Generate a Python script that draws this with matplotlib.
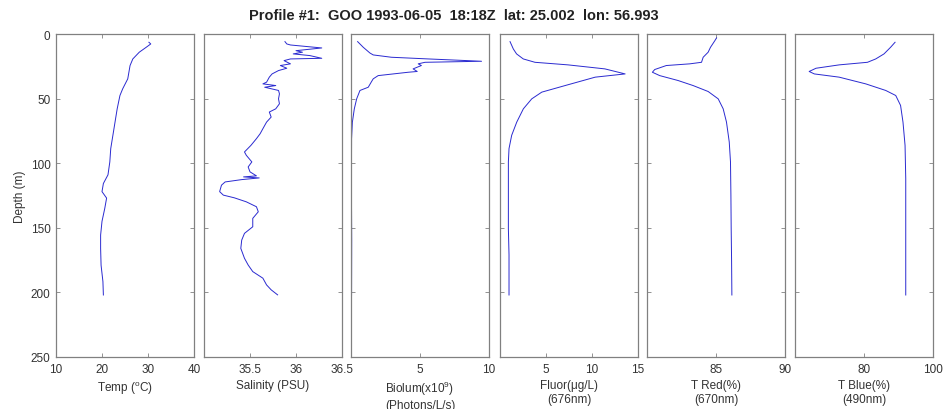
import matplotlib
matplotlib.use("Agg")
import matplotlib.pyplot as plt

plt.rcParams['font.family'] = ['Liberation Sans', 'DejaVu Sans']
plt.rcParams['mathtext.fontset'] = 'custom'
plt.rcParams['mathtext.rm'] = 'Liberation Sans'

# --- profile data (depth in m) ---
temp_depth = [6.4, 7.7, 10.3, 14.1, 19.3, 24.4, 34.7, 42.4, 47.6, 57.9, 73.3, 88.7,
              99, 109, 115.7, 122, 127, 135, 145, 155.6, 166, 179, 191.6, 202]
temp = [30.2, 30.6, 29.6, 28.1, 26.7, 26.1, 25.6, 24.5, 23.9, 23.3, 22.6, 21.9,
        21.7, 21.3, 20.3, 20.0, 21.0, 20.6, 20.0, 19.7, 19.7, 19.8, 20.2, 20.3]

sal_depth = [5.9, 7.7, 8.5, 10.8, 12.9, 14.1, 15.4, 16.7, 18.8, 19.3, 20.6, 23.1,
             24.4, 26.5, 28.3, 30.9, 33.4, 37.3, 38.6, 39.9, 41.2, 43.7, 46.3, 50.2,
             54, 57.9, 60.4, 64.3, 68.2, 73.3, 77.2, 81, 86.2, 91.3, 93.9, 99,
             102.9, 106.7, 109.8, 110.6, 111.4, 112.7, 114.5, 117, 122, 124.7, 126.8, 129.9,
             133.7, 137.6, 142.7, 149.2, 154.3, 159.5, 165.9, 173.6, 178.8, 183.9, 189,
             194.2, 198, 201.9]
sal = [35.88, 35.90, 35.94, 36.28, 36.00, 36.07, 35.97, 36.15, 36.28, 35.94, 35.87, 35.94,
       35.83, 35.90, 35.81, 35.74, 35.71, 35.68, 35.64, 35.78, 35.66, 35.81, 35.82, 35.81,
       35.82, 35.78, 35.71, 35.73, 35.68, 35.64, 35.61, 35.57, 35.51, 35.44, 35.46, 35.52,
       35.48, 35.50, 35.57, 35.43, 35.60, 35.41, 35.23, 35.19, 35.17, 35.21, 35.33, 35.46,
       35.57, 35.59, 35.53, 35.53, 35.44, 35.41, 35.40, 35.44, 35.48, 35.53, 35.64,
       35.68, 35.73, 35.80]

bio_depth = [5.9, 10.3, 14.7, 16.2, 18.0, 19.3, 20.4, 21.1, 21.9, 23.1, 24.4, 27.0,
             29.0, 29.6, 32.2, 34.7, 36.8, 41.2, 43.7, 50.2, 57.9, 68.2, 81, 120, 160, 202]
bio = [0.48, 0.89, 1.37, 1.61, 2.93, 5.6, 8.0, 9.46, 5.36, 4.87, 5.1, 4.5,
       4.8, 4.15, 1.97, 1.61, 1.49, 1.25, 0.65, 0.41, 0.24, 0.1, 0.04, 0.03, 0.05, 0.04]

fl_depth = [5.9, 11.6, 15.4, 19.3, 21.9, 23.9, 27.0, 30.9, 33.4, 39.9, 45.0, 50.2,
            57.9, 68.2, 78.4, 88.7, 99, 124.7, 150.5, 171, 202]
fluor = [1.09, 1.45, 1.8, 2.53, 3.8, 7.4, 11.4, 13.6, 10.35, 7.08, 4.54, 3.45,
         2.54, 1.82, 1.27, 0.98, 0.91, 0.91, 0.91, 0.98, 0.98]

tr_depth = [3, 5.1, 10.3, 14.1, 18.0, 21.9, 23.1, 24.4, 27.5, 29.6, 32.2, 36.0,
            39.9, 44.5, 50.2, 57.9, 68.2, 83.6, 99, 124.7, 150.5, 176.2, 202]
tred = [85.04, 84.92, 84.6, 84.43, 84.07, 83.95, 83.1, 81.4, 80.56, 80.39, 80.92, 82.25,
        83.34, 84.43, 85.16, 85.52, 85.76, 85.96, 86.05, 86.08, 86.1, 86.13, 86.15]

tb_depth = [6.4, 10.3, 15.4, 19.3, 21.9, 23.9, 26.5, 29.0, 30.9, 33.4, 38.6, 43.7,
            47.6, 55.3, 68.2, 86.2, 111.9, 150.5, 202]
tblue = [89.0, 87.7, 85.8, 83.4, 81.0, 72.8, 66.1, 64.1, 65.6, 72.8, 80.5, 86.3,
         89.2, 90.6, 91.3, 91.9, 92.1, 92.1, 92.1]

profiles = [
    (temp, temp_depth, (10, 40), [10, 20, 30, 40], 'Temp ($^{\\rm o}$C)'),
    (sal, sal_depth, (35, 36.5), [35.5, 36, 36.5], 'Salinity (PSU)'),
    (bio, bio_depth, (0, 10), [5, 10], 'Biolum(x10$^{9}$)\n(Photons/L/s)'),
    (fluor, fl_depth, (0, 15), [5, 10, 15], 'Fluor(\u03bcg/L)\n(676nm)'),
    (tred, tr_depth, (80, 90), [85, 90], 'T Red(%)\n(670nm)'),
    (tblue, tb_depth, (60, 100), [80, 100], 'T Blue(%)\n(490nm)'),
]

fig = plt.figure(figsize=(9.46, 4.10), dpi=100)
lefts = [56, 204, 351, 500, 647, 795]
for i, (x, d, xlim, xt, lab) in enumerate(profiles):
    ax = fig.add_axes([lefts[i] / 946, 52 / 410, 138 / 946, 323 / 410])
    ax.plot(x, d, color='#2a2ad0', linewidth=0.7)
    ax.set_xlim(xlim)
    ax.set_ylim(250, 0)
    ax.set_xticks(xt)
    ax.set_xticklabels([f'{v:g}' for v in xt])
    ax.set_yticks([0, 50, 100, 150, 200, 250])
    ax.tick_params(direction='in', top=True, right=True, length=3, width=0.6,
                   colors='#808080', labelcolor='#333333', labelsize=8.5)
    ax.tick_params(axis='x', pad=4)
    ax.tick_params(axis='y', pad=4)
    if i > 0:
        ax.set_yticklabels([])
    else:
        ax.set_ylabel('Depth (m)', fontsize=8.5, color='#333333', labelpad=3)
    ax.set_xlabel(lab, fontsize=8.5, color='#333333', labelpad=3, linespacing=1.2)
    for s in ax.spines.values():
        s.set_color('#808080')
        s.set_linewidth(0.9)

fig.text(0.48, 0.961, 'Profile #1:  GOO 1993-06-05  18:18Z  lat: 25.002  lon: 56.993',
         ha='center', va='center', fontsize=10.5, fontweight='bold', color='#222222')

fig.savefig('out.png', dpi=100)
